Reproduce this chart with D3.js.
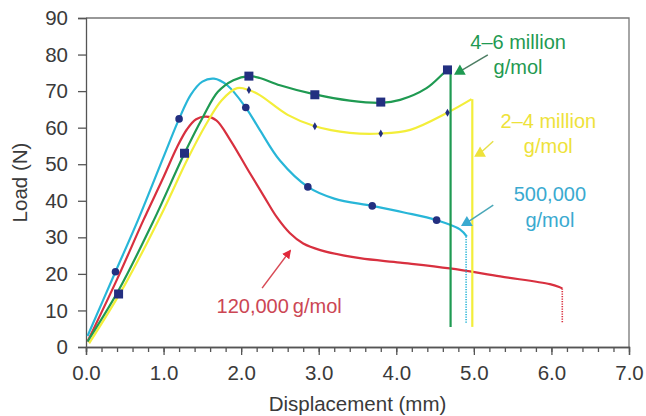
<!DOCTYPE html>
<meta charset="utf-8">
<script src="https://d3js.org/d3.v7.min.js"></script>
<style>
  body { margin: 0; background: #fff; }
  text { font-family: "Liberation Sans", Arial, sans-serif; }
</style>
<div id="chart"></div>
<script>

  // curve data (displacement mm, load N)
  var green46 = [[0.02,1.5],[0.42,15.5],[0.87,34.5],[1.27,53],[1.51,63],[1.7,69.8],[1.9,73],[2.1,74.1],[2.24,73.6],[2.5,71.6],[2.95,69.1],[3.4,67.4],[3.8,66.8],[4.05,67.6],[4.39,70.8],[4.66,75.8],[4.70,76.2]];
  var yellow24 = [[0.04,1],[0.5,17],[1.0,37.5],[1.3,51],[1.55,61],[1.75,67.5],[1.95,70.8],[2.1,70.3],[2.24,68.9],[2.6,63.5],[2.95,60.4],[3.4,58.6],[3.8,58.4],[4.18,59.4],[4.66,64.1],[4.97,67.8]];
  var cyan500k = [[0.02,3],[0.38,20.6],[0.67,34.7],[1.0,52],[1.2,62.4],[1.35,69],[1.5,72.6],[1.65,73.4],[1.82,71.6],[2.06,65.5],[2.24,59.4],[2.5,51],[2.86,43.8],[3.2,40.6],[3.69,38.6],[4.1,36.8],[4.52,34.7],[4.82,32.2],[4.91,30.2]];
  var red120k = [[0.02,1.5],[0.4,18.5],[0.74,34.7],[1.0,46.5],[1.17,54.5],[1.3,59.5],[1.42,62.3],[1.55,63],[1.68,62],[1.86,56.6],[2.1,48],[2.3,41],[2.46,35.5],[2.63,31.1],[2.8,28.3],[3.02,26.5],[3.53,24.3],[4.05,23.1],[4.69,21.5],[5.34,19.3],[5.98,17.2],[6.1,16.4],[6.14,16]];

  // failure drops: [x, from, to]
  var greenDrop = [4.70, 76.2, 5.5];
  var yellowDrop = [4.98, 67.8, 5.5];
  var cyanDrop = [4.90, 30.2, 6.5];
  var redDrop = [6.14, 16, 6.5];

  // markers
  var squarePts = [[0.42,14.5],[1.27,53],[2.1,74.1],[2.95,69],[3.8,67],[4.66,75.8]];
  var circlePts = [[0.38,20.6],[1.2,62.4],[2.06,65.5],[2.86,43.8],[3.69,38.6],[4.52,34.7]];
  var diamondPts = [[2.1,70.3],[2.95,60.4],[3.8,58.4],[4.66,64.1]];

  var xTicks = [0,1,2,3,4,5,6,7];
  var yTicks = [0,10,20,30,40,50,60,70,80,90];

  var margin = {top: 18, right: 17, bottom: 69, left: 86},
    width = 646 - margin.left - margin.right,
    height = 416 - margin.top - margin.bottom;

  var svg = d3.select("#chart")
    .append("svg")
    .attr("width", width + margin.left + margin.right)
    .attr("height", height + margin.top + margin.bottom)
    .append("g")
    .attr("transform", "translate(" + margin.left + "," + margin.top + ")");

  var x = d3.scaleLinear().domain([0, 7]).range([0, width]);
  var y = d3.scaleLinear().domain([0, 90]).range([height, 0]);

  var col = {
    green: "#1f9a52", yellow: "#f3ee3a", cyan: "#28b6d8", red: "#d8303f",
    navy: "#232f80", axis: "#555", text: "#3a3a3a"
  };

  // frame (top + right)
  svg.append("path")
    .attr("d", "M0,0H" + width + "V" + height)
    .attr("fill", "none").attr("stroke", "#777").attr("stroke-width", 1.3);

  // y axis
  svg.append("g")
    .call(d3.axisLeft(y).tickValues(yTicks).tickSize(8).tickPadding(10));
  // x axis minor + major
  svg.append("g")
    .attr("transform", "translate(0," + height + ")")
    .call(d3.axisBottom(x).tickValues(d3.range(0, 35).map(function(i){ return i * 0.2; })).tickSize(5).tickFormat(""));
  svg.append("g")
    .attr("transform", "translate(0," + height + ")")
    .call(d3.axisBottom(x).tickValues(xTicks).tickSize(8).tickPadding(10).tickFormat(d3.format(".1f")));

  svg.selectAll(".domain, .tick line").attr("stroke", col.axis).attr("stroke-width", 1.3);
  svg.selectAll(".tick text").style("font-size", "20.5px").attr("fill", col.text)
    .style("font-family", "'Liberation Sans', Arial, sans-serif");

  // axis titles
  svg.append("text")
    .attr("text-anchor", "middle")
    .attr("x", width / 2)
    .attr("y", height + 64)
    .attr("fill", col.text)
    .style("font-size", "20.5px")
    .text("Displacement (mm)");

  svg.append("text")
    .attr("text-anchor", "middle")
    .attr("transform", "rotate(-90)")
    .attr("x", -height / 2)
    .attr("y", -59)
    .attr("fill", col.text)
    .style("font-size", "20.5px")
    .text("Load (N)");

  var line = d3.line()
    .x(function(d) { return x(d[0]); })
    .y(function(d) { return y(d[1]); })
    .curve(d3.curveCatmullRom.alpha(0.5));

  function drop(d, color, dotted) {
    svg.append("line")
      .attr("x1", x(d[0])).attr("x2", x(d[0]))
      .attr("y1", y(d[1])).attr("y2", y(d[2]))
      .attr("stroke", color)
      .attr("stroke-width", dotted ? 1.6 : 2.2)
      .attr("stroke-dasharray", dotted ? "1.2,1.3" : null);
  }

  // curves
  [[red120k, col.red], [cyan500k, col.cyan], [yellow24, col.yellow], [green46, col.green]].forEach(function(s) {
    svg.append("path")
      .datum(s[0])
      .attr("fill", "none")
      .attr("stroke", s[1])
      .attr("stroke-width", 2.2)
      .attr("d", line);
  });

  drop(redDrop, col.red, true);
  drop(cyanDrop, col.cyan, true);
  drop(yellowDrop, col.yellow, false);
  drop(greenDrop, col.green, false);

  // markers
  svg.selectAll(".sq").data(squarePts).enter().append("rect")
    .attr("x", function(d) { return x(d[0]) - 4.5; })
    .attr("y", function(d) { return y(d[1]) - 4.5; })
    .attr("width", 9).attr("height", 9)
    .attr("fill", col.navy);

  svg.selectAll(".ci").data(circlePts).enter().append("circle")
    .attr("cx", function(d) { return x(d[0]); })
    .attr("cy", function(d) { return y(d[1]); })
    .attr("r", 3.8)
    .attr("fill", col.navy);

  svg.selectAll(".di").data(diamondPts).enter().append("path")
    .attr("d", d3.symbol().type(d3.symbolDiamond).size(18))
    .attr("transform", function(d) { return "translate(" + x(d[0]) + "," + y(d[1]) + ")"; })
    .attr("fill", col.navy);

  // annotations: triangle point, arrow tail, text lines
  var notes = [
    {color: col.green, lineColor: "#4d7d63", tri: [4.82, 75.4], tail: [5.18, 79.9], lines: ["4\u20136 million", "g/mol"], tx: 5.57, ty: [81.4, 74.6]},
    {color: "#eee23a", lineColor: "#e6e04a", tri: [5.08, 53.0], tail: [5.25, 56.3], lines: ["2\u20134 million", "g/mol"], tx: 5.96, ty: [60.0, 53.1]},
    {color: "#3aaad0", lineColor: "#4aa7b8", tri: [4.91, 34.0], tail: [5.25, 38.8], lines: ["500,000", "g/mol"], tx: 5.98, ty: [39.9, 32.9]}
  ];

  notes.forEach(function(n) {
    svg.append("line")
      .attr("x1", x(n.tail[0])).attr("y1", y(n.tail[1]))
      .attr("x2", x(n.tri[0])).attr("y2", y(n.tri[1]))
      .attr("stroke", n.lineColor).attr("stroke-width", 1.5);
    svg.append("path")
      .attr("d", d3.symbol().type(d3.symbolTriangle).size(60))
      .attr("transform", "translate(" + x(n.tri[0]) + "," + y(n.tri[1]) + ")")
      .attr("fill", n.color);
    n.lines.forEach(function(t, i) {
      svg.append("text")
        .attr("text-anchor", "middle")
        .attr("x", x(n.tx))
        .attr("y", y(n.ty[i]))
        .attr("fill", n.color)
        .style("font-size", "20px")
        .text(t);
    });
  });

  // red arrow + label
  svg.append("defs").append("marker")
    .attr("id", "redhead")
    .attr("viewBox", "0 0 10 10")
    .attr("refX", 8).attr("refY", 5)
    .attr("markerWidth", 9).attr("markerHeight", 9)
    .attr("markerUnits", "userSpaceOnUse")
    .attr("orient", "auto")
    .append("path")
    .attr("d", "M0,0L10,5L0,10Z")
    .attr("fill", "#e0283a");

  svg.append("line")
    .attr("x1", x(2.27)).attr("y1", y(16.1))
    .attr("x2", x(2.63)).attr("y2", y(26.3))
    .attr("stroke", "#d84a55").attr("stroke-width", 1.5)
    .attr("marker-end", "url(#redhead)");

  svg.append("text")
    .attr("text-anchor", "middle")
    .attr("x", x(2.49))
    .attr("y", y(9.2))
    .attr("fill", "#cc4654")
    .style("font-size", "20px")
    .text("120,000\u2009g/mol");

</script>
